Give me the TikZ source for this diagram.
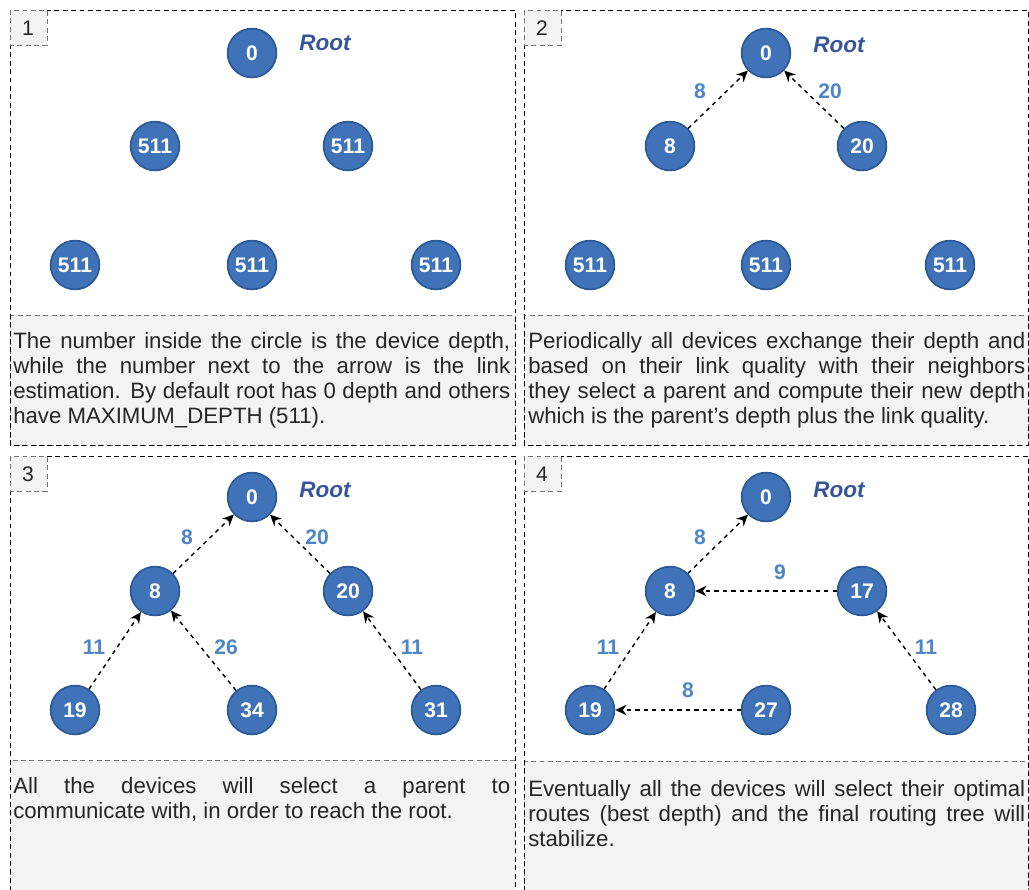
\documentclass[tikz,border=0pt]{standalone}
\usepackage{fontspec}
\setmainfont{Liberation Sans}
\usetikzlibrary{arrows.meta}

\definecolor{devblue}{HTML}{3F72B6}
\definecolor{devedge}{HTML}{2C5A96}
\definecolor{linkblue}{HTML}{4C86C6}
\definecolor{rootblue}{HTML}{37569A}
\definecolor{capgray}{HTML}{F3F3F3}

\tikzset{
	dev/.style={circle, draw=devedge, line width=1.2pt, fill=devblue, text=white,
		minimum size=1.22cm, inner sep=0pt, font=\fontsize{15}{15}\selectfont\bfseries},
	link/.style={dashed, line width=1pt, -{Stealth[length=8pt,width=7.5pt]}},
	lq/.style={text=linkblue, font=\fontsize{15}{15}\selectfont\bfseries},
	rootlbl/.style={text=rootblue, font=\fontsize{16}{16}\selectfont\bfseries\itshape},
	panel/.style={draw, dash pattern=on 3.5pt off 2.5pt, line width=0.6pt},
	capbox/.style={draw=black!55, dash pattern=on 3.5pt off 2.5pt, fill=capgray, line width=0.6pt},
	captext/.style={anchor=north west, inner sep=0pt, text width=12.42cm, align=justify,
		font=\fontsize{15.8}{17.8}\selectfont, text=black!85},
	numtext/.style={font=\fontsize{15}{15}\selectfont, text=black!85},
}

\begin{document}
\begin{tikzpicture}[x=0.025cm, y=-0.025cm]
	\clip (0,0) rectangle (1029,889);
	\fill[white] (0,0) rectangle (1029,889);

	% caption boxes
	\draw[capbox] (10,315) rectangle (515,445);
	\draw[capbox] (524,315) rectangle (1028,445);
	\draw[capbox] (10,760) rectangle (515,900);
	\draw[capbox] (524,761) rectangle (1028,900);

	% panel frames
	\draw[panel] (10,10) rectangle (515,445);
	\draw[panel] (524,10) rectangle (1028,445);
	\draw[panel] (10,456) rectangle (515,900);
	\draw[panel] (524,456) rectangle (1028,900);

	% step numbers
	\draw[capbox] (10,10) rectangle (47,45);
	\node[numtext] (n1) at (28,28) {1};
	\draw[capbox] (524,10) rectangle (561,45);
	\node[numtext] (n2) at (542,28) {2};
	\draw[capbox] (10,456) rectangle (47,491);
	\node[numtext] (n3) at (28,474) {3};
	\draw[capbox] (524,456) rectangle (561,491);
	\node[numtext] (n4) at (542,474) {4};

	% step 1
	\node[dev] (p1root) at (252,53) {0};
	\node[rootlbl] (p1name) at (325,43) {Root};
	\node[dev] (p1l) at (155,146) {511};
	\node[dev] (p1r) at (348,146) {511};
	\node[dev] (p1a) at (75,265) {511};
	\node[dev] (p1b) at (252,265) {511};
	\node[dev] (p1c) at (436,265) {511};

	% step 2
	\node[dev] (p2root) at (766,53) {0};
	\node[rootlbl] (p2name) at (839,45) {Root};
	\node[dev] (p2l) at (670,146) {8};
	\node[dev] (p2r) at (862,146) {20};
	\node[dev] (p2a) at (590,265) {511};
	\node[dev] (p2b) at (766,265) {511};
	\node[dev] (p2c) at (950,265) {511};
	\draw[link] (p2l) -- (p2root);
	\draw[link] (p2r) -- (p2root);
	\node[lq] (q2a) at (700,91) {8};
	\node[lq] (q2b) at (830,91) {20};

	% step 3
	\node[dev] (p3root) at (252,497) {0};
	\node[rootlbl] (p3name) at (325,490) {Root};
	\node[dev] (p3l) at (155,591) {8};
	\node[dev] (p3r) at (348,591) {20};
	\node[dev] (p3a) at (75,710) {19};
	\node[dev] (p3b) at (252,710) {34};
	\node[dev] (p3c) at (436,710) {31};
	\draw[link] (p3l) -- (p3root);
	\draw[link] (p3r) -- (p3root);
	\draw[link] (p3a) -- (p3l);
	\draw[link] (p3b) -- (p3l);
	\draw[link] (p3c) -- (p3r);
	\node[lq] (q3a) at (187,537) {8};
	\node[lq] (q3b) at (317,537) {20};
	\node[lq] (q3c) at (94,647) {11};
	\node[lq] (q3d) at (226,647) {26};
	\node[lq] (q3e) at (412,647) {11};

	% step 4
	\node[dev] (p4root) at (766,497) {0};
	\node[rootlbl] (p4name) at (839,490) {Root};
	\node[dev] (p4l) at (670,591) {8};
	\node[dev] (p4r) at (862,591) {17};
	\node[dev] (p4a) at (590,710) {19};
	\node[dev] (p4b) at (766,710) {27};
	\node[dev] (p4c) at (951,710) {28};
	\draw[link] (p4l) -- (p4root);
	\draw[link] (p4r) -- (p4l);
	\draw[link] (p4a) -- (p4l);
	\draw[link] (p4b) -- (p4a);
	\draw[link] (p4c) -- (p4r);
	\node[lq] (q4a) at (700,537) {8};
	\node[lq] (q4b) at (780,572) {9};
	\node[lq] (q4c) at (608,647) {11};
	\node[lq] (q4d) at (926,647) {11};
	\node[lq] (q4e) at (688,690) {8};

	% captions
	\node[captext] (c1) at (13,332) {The number inside the circle is the device depth,\linebreak
		while the number next to the arrow is the link\linebreak
		estimation. By default root has 0 depth and others\linebreak
		have MAXIMUM\_DEPTH (511).};
	\node[captext] (c2) at (528,332) {Periodically all devices exchange their depth and\linebreak
		based on their link quality with their neighbors\linebreak
		they select a parent and compute their new depth\linebreak
		which is the parent's depth plus the link quality.};
	\node[captext] (c3) at (13,777) {All the devices will select a parent to\linebreak
		communicate with, in order to reach the root.};
	\node[captext] (c4) at (528,780) {Eventually all the devices will select their optimal\linebreak
		routes (best depth) and the final routing tree will\linebreak
		stabilize.};
\end{tikzpicture}
\end{document}
